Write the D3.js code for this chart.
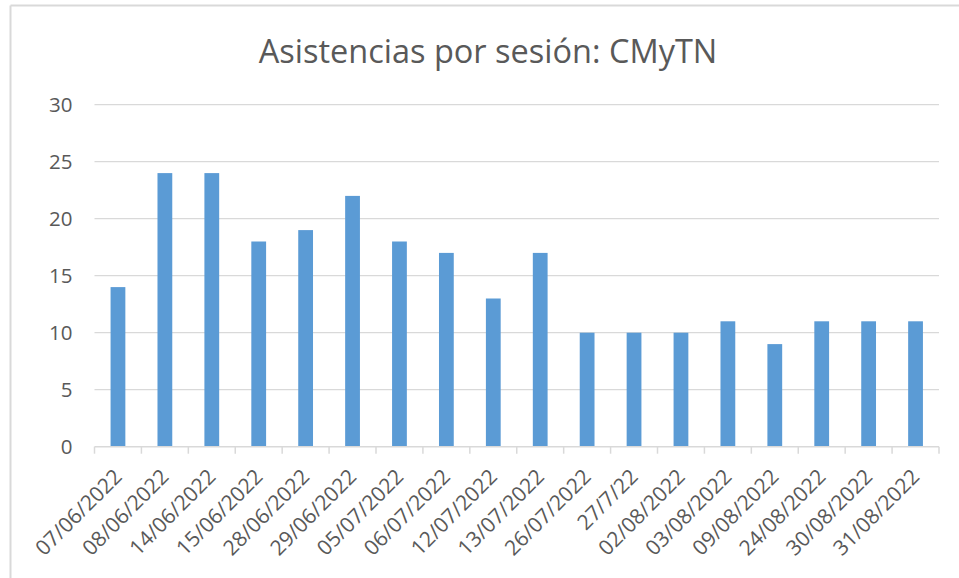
<!DOCTYPE html>
<html>
<head>
<meta charset="utf-8">
<script src="https://cdn.jsdelivr.net/npm/d3@7"></script>
<style>
  body { margin: 0; background: #fff; }
  text { font-family: "Open Sans", sans-serif; fill: #595959; }
</style>
</head>
<body>
<div id="chart"></div>
<script>
// Data
const fechas = ["07/06/2022", "08/06/2022", "14/06/2022", "15/06/2022", "28/06/2022",
  "29/06/2022", "05/07/2022", "06/07/2022", "12/07/2022", "13/07/2022", "26/07/2022",
  "27/7/22", "02/08/2022", "03/08/2022", "09/08/2022", "24/08/2022", "30/08/2022", "31/08/2022"];
const asistencias = [14, 24, 24, 18, 19, 22, 18, 17, 13, 17, 10, 10, 10, 11, 9, 11, 11, 11];
const yTicks = [0, 5, 10, 15, 20, 25, 30];
const titulo = "Asistencias por sesión: CMyTN";

const width = 959, height = 578;
const margin = { top: 104.7, right: 20, bottom: 131.3, left: 94.5 };
const w = 939 - margin.left;
const h = 446.7 - margin.top;

const svg = d3.select("#chart").append("svg")
  .attr("width", width)
  .attr("height", height);

// chart frame (only top and left edges visible)
svg.append("line")
  .attr("x1", 10.5).attr("x2", width).attr("y1", 5.5).attr("y2", 5.5)
  .attr("stroke", "#d9d9d9").attr("stroke-width", 2);
svg.append("line")
  .attr("x1", 10.5).attr("x2", 10.5).attr("y1", 5.5).attr("y2", height)
  .attr("stroke", "#d9d9d9").attr("stroke-width", 2);

// Title
svg.append("text")
  .attr("x", 488)
  .attr("y", 63)
  .attr("text-anchor", "middle")
  .style("font-size", "32.5px")
  .text(titulo);

const g = svg.append("g")
  .attr("transform", "translate(" + margin.left + "," + margin.top + ")");

const x = d3.scaleBand().domain(fechas).range([0, w]).paddingInner(0.685).paddingOuter(0.3425);
const step = w / fechas.length;
const y = d3.scaleLinear().domain([0, 30]).range([h, 0]);

// Gridlines
g.append("g").attr("class", "grid")
  .selectAll("line")
  .data(yTicks.filter(d => d > 0))
  .enter().append("line")
  .attr("x1", 0).attr("x2", w)
  .attr("y1", d => y(d)).attr("y2", d => y(d))
  .attr("stroke", "#d9d9d9").attr("stroke-width", 1.3);

// Y axis labels
const yAxis = d3.axisLeft(y).tickValues(yTicks).tickSize(0).tickPadding(22);
g.append("g").call(yAxis)
  .call(a => a.select(".domain").remove())
  .selectAll("text")
  .style("font-size", "20.5px")
  .attr("fill", "#595959");

// Bars
g.selectAll(".bar")
  .data(asistencias)
  .enter().append("rect")
  .attr("class", "bar")
  .attr("x", (d, i) => x(fechas[i]))
  .attr("y", d => y(d))
  .attr("width", x.bandwidth())
  .attr("height", d => h - y(d))
  .attr("fill", "#5b9bd5");

// X axis line and ticks at category boundaries
g.append("line")
  .attr("x1", 0).attr("x2", w).attr("y1", h).attr("y2", h)
  .attr("stroke", "#d9d9d9").attr("stroke-width", 1.5);
g.selectAll(".tick-b")
  .data(d3.range(fechas.length + 1))
  .enter().append("line")
  .attr("class", "tick-b")
  .attr("x1", i => i * step).attr("x2", i => i * step)
  .attr("y1", h).attr("y2", h + 7)
  .attr("stroke", "#d9d9d9").attr("stroke-width", 1.5);

// X labels, rotated
g.selectAll(".xlab")
  .data(fechas)
  .enter().append("text")
  .attr("class", "xlab")
  .attr("text-anchor", "end")
  .style("font-size", "21px")
  .attr("transform", d => "translate(" + (x(d) + x.bandwidth() / 2) + "," + (h + 26) + ") rotate(-45)")
  .attr("dy", "0.35em")
  .text(d => d);
</script>
</body>
</html>
